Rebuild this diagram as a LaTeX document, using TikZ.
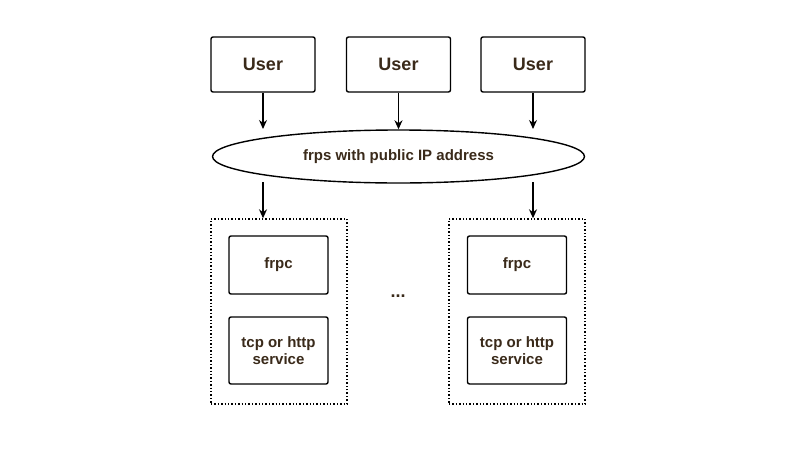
\documentclass[tikz,border=0pt]{standalone}
\usepackage{fontspec}
\setmainfont{Liberation Sans}
\usetikzlibrary{positioning,shapes.geometric,arrows.meta}
\definecolor{txt}{HTML}{3A2A1A}
\begin{document}
\begin{tikzpicture}[x=1pt,y=-1pt,>={Stealth[length=9pt,width=8pt]},line width=1.4pt,
  box/.style={draw,rounded corners=2pt,fill=white,align=center,text=txt,font=\bfseries\fontsize{15}{17}\selectfont},
  userbox/.style={box,minimum width=104pt,minimum height=55pt,font=\bfseries\fontsize{18}{20}\selectfont},
  inbox/.style={box,minimum width=99pt},
  hostbox/.style={draw,dotted,minimum width=136pt,minimum height=185pt},
  link/.style={->}]
 \useasboundingbox (0,0) rectangle (800,450);

 % users
 \node[userbox] (user1) at (263,64.5) {User};
 \node[userbox] (user2) at (398.5,64.5) {User};
 \node[userbox] (user3) at (533,64.5) {User};

 % server
 \node[draw,ellipse,minimum width=372pt,minimum height=53pt,text=txt,
   font=\bfseries\fontsize{15}{17}\selectfont] (frps) at (398.5,156.5) {frps with public IP address};

 % clients
 \node[hostbox] (host1) at (279,311.5) {};
 \node[hostbox] (host2) at (517,311.5) {};
 \node[inbox,minimum height=58pt] (frpc1) at (278.5,265) {frpc};
 \node[inbox,minimum height=67pt] (svc1) at (278.5,350.5) {tcp or http\\service};
 \node[inbox,minimum height=58pt] (frpc2) at (517,265) {frpc};
 \node[inbox,minimum height=67pt] (svc2) at (517,350.5) {tcp or http\\service};
 \node[text=txt,font=\bfseries\fontsize{18}{20}\selectfont] (dots) at (398,296) {...};

 \coordinate (in1) at (263,129);
 \coordinate (in3) at (533,129);
 \coordinate (out1) at (263,182);
 \coordinate (out2) at (533,182);
 \draw[link] (user1.south) -- (in1);
 \draw[link] (user2.south) -- (frps.north);
 \draw[link] (user3.south) -- (in3);
 \draw[link] (out1) -- (out1 |- host1.north);
 \draw[link] (out2) -- (out2 |- host2.north);
\end{tikzpicture}
\end{document}
